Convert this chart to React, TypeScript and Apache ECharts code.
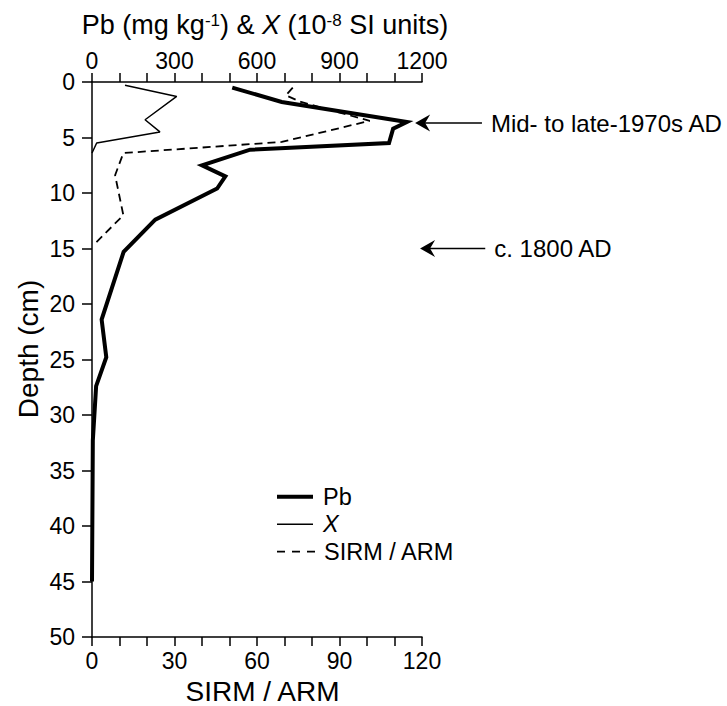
import React, { useEffect, useRef } from "react";
import * as echarts from "echarts";

const FONT = '"Liberation Sans", Arial, Helvetica, sans-serif';

// Pb (mg kg-1), top axis
const pbDepths = [0.5, 1.8, 3.6, 4.2, 5.5, 6.1, 7.5, 8.5, 9.6, 12.4, 15.3, 21.4, 24.8, 27.4, 32.3, 45];
const pbValues = [510, 690, 1145, 1095, 1080, 575, 400, 485, 455, 230, 115, 35, 52, 15, 3, 0];

// Magnetic susceptibility X (10^-8 SI units), top axis
const chiDepths = [0.3, 1.3, 3.4, 4.5, 5.5, 6.4];
const chiValues = [120, 308, 193, 247, 17, 0];

// SIRM / ARM, bottom axis
const sirmDepths = [0.5, 1.2, 1.8, 3.5, 5.4, 6.4, 8.4, 12, 14.7];
const sirmValues = [73, 70.5, 76, 101, 69, 11.4, 8.4, 11.4, 0.5];

// Tick labels
const topTickLabels = [0, 300, 600, 900, 1200];
const bottomTickLabels = [0, 30, 60, 90, 120];

// Legend entries
const legendNames = ["Pb", "X", "SIRM / ARM"];

// Annotations (depth in cm, arrow tip/tail in Pb-axis units)
const annotationLabels = ["Mid- to late-1970s AD", "c. 1800 AD"];
const annotationDepths = [3.7, 15];
const annotationTips = [1175, 1193];
const annotationTails = [1418, 1430];

const pairs = (vals: number[], depths: number[]) => vals.map((v, i) => [v, depths[i]]);

const axisBase = {
  axisLine: { show: true, onZero: false, lineStyle: { color: "#000", width: 1.5 } },
  axisTick: { show: true, length: 9, lineStyle: { color: "#000", width: 1.5 } },
  splitLine: { show: false },
};

export default function App() {
  const ref = useRef<HTMLDivElement>(null);
  useEffect(() => {
    const chart = echarts.init(ref.current!, null, { renderer: "svg" });
    const option: any = {
      animation: false,
      backgroundColor: "#fff",
      textStyle: { fontFamily: FONT, color: "#000" },
      grid: { left: 92, top: 82, right: 305, bottom: 69, containLabel: false, outerBoundsMode: "none" },
      xAxis: [
        {
          ...axisBase,
          type: "value",
          position: "top",
          min: 0,
          max: 1200,
          interval: 100,
          axisLabel: {
            fontSize: 23,
            color: "#000",
            fontFamily: FONT,
            margin: 10,
            formatter: (v: number) => (topTickLabels.includes(v) ? String(v) : ""),
          },
        },
        {
          ...axisBase,
          type: "value",
          position: "bottom",
          min: 0,
          max: 120,
          interval: 10,
          axisLabel: {
            fontSize: 23,
            color: "#000",
            fontFamily: FONT,
            margin: 12,
            formatter: (v: number) => (bottomTickLabels.includes(v) ? String(v) : ""),
          },
        },
      ],
      yAxis: {
        ...axisBase,
        axisTick: { show: true, length: 10, lineStyle: { color: "#000", width: 1.5 } },
        type: "value",
        inverse: true,
        min: 0,
        max: 50,
        interval: 5,
        axisLabel: { fontSize: 23, color: "#000", fontFamily: FONT, margin: 17 },
      },
      series: [
        {
          name: legendNames[0],
          type: "line",
          xAxisIndex: 0,
          yAxisIndex: 0,
          symbol: "none",
          data: pairs(pbValues, pbDepths),
          lineStyle: { color: "#000", width: 4, join: "miter" },
          itemStyle: { color: "#000" },
        },
        {
          name: legendNames[1],
          type: "line",
          xAxisIndex: 0,
          yAxisIndex: 0,
          symbol: "none",
          data: pairs(chiValues, chiDepths),
          lineStyle: { color: "#000", width: 1.5 },
          itemStyle: { color: "#000" },
        },
        {
          name: legendNames[2],
          type: "line",
          xAxisIndex: 1,
          yAxisIndex: 0,
          symbol: "none",
          data: pairs(sirmValues, sirmDepths),
          lineStyle: { color: "#000", width: 1.8, type: [8, 5] },
          itemStyle: { color: "#000" },
        },
      ],
    };
    chart.setOption(option);

    const legendTextStyle = (italic: boolean) => ({
      align: "left",
      verticalAlign: "middle",
      fill: "#000",
      fontSize: 23.5,
      fontStyle: italic ? "italic" : "normal",
      fontFamily: FONT,
    });

    const graphics: any[] = [
      {
        type: "text",
        id: "topTitle",
        x: 265,
        y: 25,
        style: {
          text: "{n|Pb (mg kg}{s|-1}{n|) & }{i|X}{n| (10}{s|-8}{n| SI units)}",
          align: "center",
          verticalAlign: "middle",
          fill: "#000",
          fontSize: 27,
          fontFamily: FONT,
          rich: {
            n: { fontSize: 27, fontFamily: FONT, fill: "#000" },
            i: { fontSize: 27, fontFamily: FONT, fontStyle: "italic", fill: "#000" },
            s: { fontSize: 17, fontFamily: FONT, fill: "#000", verticalAlign: "top" },
          },
        },
      },
      {
        type: "text",
        id: "yTitle",
        x: 28,
        y: 349,
        rotation: Math.PI / 2,
        style: {
          text: "Depth (cm)",
          align: "center",
          verticalAlign: "middle",
          fill: "#000",
          fontSize: 28,
          fontFamily: FONT,
        },
      },
      {
        type: "text",
        id: "bottomTitle",
        x: 262.5,
        y: 691,
        style: {
          text: "SIRM / ARM",
          align: "center",
          verticalAlign: "middle",
          lineHeight: 20,
          fill: "#000",
          fontSize: 28,
          fontFamily: FONT,
        },
      },
      // legend samples
      {
        type: "line",
        id: "legPb",
        shape: { x1: 277, y1: 496.7, x2: 313, y2: 496.7 },
        style: { stroke: "#000", lineWidth: 4 },
      },
      {
        type: "line",
        id: "legChi",
        shape: { x1: 277, y1: 524.3, x2: 313, y2: 524.3 },
        style: { stroke: "#000", lineWidth: 1.5 },
      },
      {
        type: "line",
        id: "legSirm",
        shape: { x1: 277, y1: 551.7, x2: 315, y2: 551.7 },
        style: { stroke: "#000", lineWidth: 1.8, lineDash: [8, 7] },
      },
      { type: "text", id: "legT0", x: 323, y: 496.7, style: { text: legendNames[0], ...legendTextStyle(false) } },
      { type: "text", id: "legT1", x: 323, y: 524.3, style: { text: legendNames[1], ...legendTextStyle(true) } },
      { type: "text", id: "legT2", x: 324, y: 551.7, style: { text: legendNames[2], ...legendTextStyle(false) } },
    ];

    annotationLabels.forEach((label, i) => {
      const tip = chart.convertToPixel({ seriesIndex: 0 }, [annotationTips[i], annotationDepths[i]]) as number[];
      const tail = chart.convertToPixel({ seriesIndex: 0 }, [annotationTails[i], annotationDepths[i]]) as number[];
      const [tx, ty] = tip;
      graphics.push({
        type: "line",
        id: "arrowLine" + i,
        shape: { x1: tx + 8, y1: ty, x2: tail[0], y2: ty },
        style: { stroke: "#000", lineWidth: 1.6 },
      });
      graphics.push({
        type: "polygon",
        id: "arrowHead" + i,
        shape: { points: [[tx, ty], [tx + 15, ty - 8.5], [tx + 10, ty], [tx + 15, ty + 8.5]] },
        style: { fill: "#000" },
      });
      graphics.push({
        type: "text",
        id: "arrowText" + i,
        x: tail[0] + 9,
        y: ty,
        style: {
          text: label,
          align: "left",
          verticalAlign: "middle",
          fill: "#000",
          fontSize: 24,
          fontFamily: FONT,
        },
      });
    });
    chart.setOption({ graphic: graphics });

    return () => chart.dispose();
  }, []);
  return <div ref={ref} style={{ position: "fixed", left: 0, top: 0, width: 727, height: 706 }} />;
}
